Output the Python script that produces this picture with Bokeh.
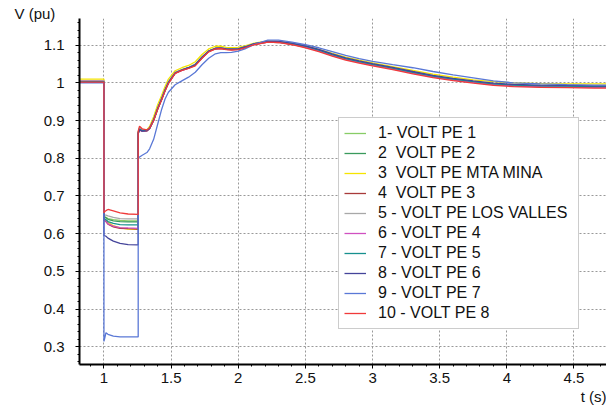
from bokeh.plotting import figure
from bokeh.models import FixedTicker, CustomJSTickFormatter, Legend, LegendItem, Title, Range1d
from bokeh.embed import file_html
from bokeh.resources import INLINE

# ---- data ----
T_pre = [0.80, 1.0]
T_fault = [1.0, 1.003, 1.015, 1.03, 1.07, 1.12, 1.18, 1.255]
T_post = [1.255, 1.265, 1.285, 1.32, 1.34, 1.37, 1.40, 1.43, 1.455, 1.48,
          1.53, 1.58, 1.63, 1.68, 1.73, 1.78, 1.83, 1.87, 1.91, 1.95,
          2.0, 2.05, 2.12, 2.22, 2.3, 2.4, 2.5, 2.6, 2.7, 2.8,
          2.9, 3.0, 3.15, 3.3, 3.45, 3.6, 3.75, 3.9, 4.05, 4.25,
          4.45, 4.65, 4.9]

names = ["1- VOLT PE 1", "2  VOLT PE 2", "3  VOLT PE MTA MINA", "4  VOLT PE 3",
         "5 - VOLT PE LOS VALLES", "6 - VOLT PE 4", "7 - VOLT PE 5", "8 - VOLT PE 6",
         "9 - VOLT PE 7", "10 - VOLT PE 8"]
colors = ["#88cc66", "#3a9a5c", "#f5e400", "#a83a3a", "#a8a8a8",
          "#d050c0", "#17908e", "#44449a", "#5a78d6", "#f03a3a"]

pre_v = [1.005, 1.004, 1.010, 1.003, 1.006, 1.004, 1.003, 1.001, 1.000, 1.002]

fault_v = [
    [0.645, 0.645, 0.643, 0.640, 0.637, 0.635, 0.634, 0.634],
    [0.644, 0.644, 0.642, 0.638, 0.634, 0.632, 0.631, 0.631],
    [0.638, 0.638, 0.636, 0.630, 0.621, 0.615, 0.612, 0.611],
    [0.635, 0.635, 0.632, 0.625, 0.618, 0.614, 0.613, 0.612],
    [0.650, 0.650, 0.649, 0.647, 0.643, 0.640, 0.639, 0.639],
    [0.636, 0.636, 0.633, 0.626, 0.620, 0.616, 0.615, 0.614],
    [0.640, 0.640, 0.637, 0.632, 0.627, 0.624, 0.623, 0.623],
    [0.596, 0.595, 0.593, 0.588, 0.580, 0.574, 0.571, 0.570],
    [0.314, 0.318, 0.337, 0.333, 0.328, 0.326, 0.326, 0.326],
    [0.655, 0.657, 0.661, 0.664, 0.660, 0.655, 0.652, 0.651],
]

post_v = [
    [0.869, 0.880, 0.876, 0.875, 0.881, 0.903, 0.933, 0.959, 0.982, 1.002, 1.027, 1.035, 1.040, 1.049, 1.068, 1.084, 1.092, 1.093, 1.090, 1.089, 1.091, 1.096, 1.104, 1.110, 1.109, 1.104, 1.096, 1.086, 1.074, 1.063, 1.055, 1.048, 1.038, 1.027, 1.017, 1.009, 1.002, 0.996, 0.993, 0.991, 0.990, 0.989, 0.989],
    [0.868, 0.879, 0.875, 0.874, 0.880, 0.902, 0.932, 0.958, 0.981, 1.001, 1.027, 1.034, 1.040, 1.048, 1.067, 1.084, 1.091, 1.092, 1.090, 1.089, 1.090, 1.095, 1.103, 1.109, 1.108, 1.103, 1.096, 1.086, 1.074, 1.063, 1.055, 1.048, 1.038, 1.027, 1.017, 1.009, 1.002, 0.996, 0.993, 0.991, 0.990, 0.989, 0.989],
    [0.868, 0.878, 0.874, 0.876, 0.884, 0.910, 0.942, 0.967, 0.990, 1.010, 1.032, 1.040, 1.046, 1.056, 1.075, 1.090, 1.097, 1.097, 1.094, 1.093, 1.094, 1.098, 1.105, 1.111, 1.110, 1.106, 1.099, 1.089, 1.078, 1.068, 1.060, 1.053, 1.043, 1.033, 1.023, 1.015, 1.008, 1.003, 1.000, 0.998, 0.997, 0.997, 0.997],
    [0.865, 0.875, 0.871, 0.872, 0.878, 0.900, 0.930, 0.956, 0.979, 0.999, 1.025, 1.033, 1.039, 1.047, 1.066, 1.083, 1.090, 1.091, 1.089, 1.088, 1.089, 1.094, 1.102, 1.108, 1.107, 1.102, 1.095, 1.085, 1.073, 1.062, 1.054, 1.047, 1.037, 1.026, 1.016, 1.008, 1.001, 0.995, 0.992, 0.990, 0.989, 0.988, 0.988],
    [0.870, 0.880, 0.876, 0.875, 0.881, 0.903, 0.934, 0.960, 0.983, 1.003, 1.028, 1.035, 1.041, 1.050, 1.069, 1.085, 1.092, 1.093, 1.091, 1.090, 1.091, 1.096, 1.104, 1.110, 1.109, 1.104, 1.097, 1.087, 1.075, 1.064, 1.056, 1.049, 1.039, 1.028, 1.018, 1.010, 1.003, 0.997, 0.994, 0.992, 0.991, 0.990, 0.990],
    [0.866, 0.876, 0.872, 0.873, 0.879, 0.901, 0.931, 0.957, 0.980, 1.000, 1.026, 1.033, 1.039, 1.047, 1.066, 1.083, 1.091, 1.092, 1.089, 1.088, 1.089, 1.094, 1.102, 1.108, 1.108, 1.103, 1.095, 1.085, 1.073, 1.062, 1.054, 1.047, 1.037, 1.026, 1.016, 1.008, 1.001, 0.995, 0.992, 0.990, 0.989, 0.988, 0.988],
    [0.867, 0.877, 0.873, 0.874, 0.880, 0.902, 0.932, 0.958, 0.981, 1.001, 1.026, 1.034, 1.040, 1.048, 1.067, 1.084, 1.091, 1.092, 1.090, 1.089, 1.090, 1.095, 1.103, 1.109, 1.109, 1.104, 1.097, 1.087, 1.075, 1.064, 1.056, 1.049, 1.039, 1.028, 1.018, 1.010, 1.003, 0.997, 0.994, 0.992, 0.991, 0.990, 0.990],
    [0.866, 0.876, 0.872, 0.873, 0.879, 0.901, 0.931, 0.957, 0.980, 1.000, 1.026, 1.034, 1.040, 1.048, 1.067, 1.084, 1.091, 1.092, 1.090, 1.089, 1.090, 1.095, 1.104, 1.110, 1.110, 1.105, 1.098, 1.089, 1.077, 1.066, 1.058, 1.051, 1.041, 1.030, 1.020, 1.012, 1.005, 0.999, 0.996, 0.994, 0.993, 0.992, 0.992],
    [0.800, 0.803, 0.808, 0.815, 0.825, 0.850, 0.890, 0.930, 0.957, 0.975, 0.995, 1.005, 1.015, 1.028, 1.048, 1.065, 1.077, 1.080, 1.080, 1.081, 1.084, 1.090, 1.102, 1.113, 1.113, 1.108, 1.101, 1.093, 1.083, 1.073, 1.064, 1.057, 1.048, 1.040, 1.030, 1.021, 1.013, 1.005, 1.000, 0.997, 0.995, 0.994, 0.994],
    [0.872, 0.885, 0.878, 0.875, 0.880, 0.900, 0.930, 0.955, 0.978, 0.998, 1.025, 1.033, 1.038, 1.045, 1.065, 1.082, 1.090, 1.091, 1.088, 1.087, 1.088, 1.093, 1.101, 1.108, 1.107, 1.101, 1.093, 1.083, 1.071, 1.060, 1.052, 1.045, 1.035, 1.024, 1.014, 1.006, 0.999, 0.993, 0.990, 0.988, 0.987, 0.986, 0.986],
]

x_ticks = [1, 1.5, 2, 2.5, 3, 3.5, 4, 4.5]
y_ticks = [0.3, 0.4, 0.5, 0.6, 0.7, 0.8, 0.9, 1.0, 1.1]

# ---- figure ----
FONT = "Liberation Sans"
p = figure(width=606, height=410, output_backend="svg", toolbar_location=None,
           x_range=Range1d(0.818, 4.742), y_range=Range1d(0.2528, 1.1706),
           min_border_left=79, min_border_right=0, min_border_top=18, min_border_bottom=46)
p.outline_line_color = None
p.background_fill_color = "white"
p.border_fill_color = "white"

T_all = T_pre + T_fault + T_post
renderers = []
for i in range(len(names)):
    ys = [pre_v[i], pre_v[i]] + fault_v[i] + post_v[i]
    r = p.line(T_all, ys, line_color=colors[i], line_width=1.3)
    renderers.append(r)

x_minor = [round(0.8 + 0.1 * k, 2) for k in range(0, 40)]
y_minor = [round(0.26 + 0.02 * k, 2) for k in range(0, 46)]
xt = FixedTicker(ticks=x_ticks, minor_ticks=x_minor)
yt = FixedTicker(ticks=y_ticks, minor_ticks=y_minor)
p.xaxis.ticker = xt
p.yaxis.ticker = yt
p.xgrid.ticker = xt
p.ygrid.ticker = yt
p.xaxis.formatter = CustomJSTickFormatter(code="return String(Math.round(tick*1000)/1000);")
p.yaxis.formatter = CustomJSTickFormatter(code="return String(Math.round(tick*1000)/1000);")

for ax in (p.xaxis, p.yaxis):
    ax.axis_line_width = 2
    ax.axis_line_color = "black"
    ax.major_tick_out = 4
    ax.major_tick_in = 0
    ax.minor_tick_out = 2
    ax.minor_tick_in = 0
    ax.major_tick_line_color = "black"
    ax.minor_tick_line_color = "black"
    ax.major_label_text_font = FONT
    ax.major_label_text_font_size = "15px"
    ax.major_label_text_color = "#111111"
p.yaxis.major_label_standoff = 11
p.xaxis.major_label_standoff = 4

for g in (p.xgrid, p.ygrid):
    g.grid_line_color = "#999999"
    g.grid_line_dash = "2 2"
    g.grid_line_width = 1

legend = Legend(items=[LegendItem(label=names[i], renderers=[renderers[i]]) for i in range(len(names))],
                location=(259, 35))
legend.border_line_color = "#9a9a9a"
legend.border_line_width = 1
legend.background_fill_color = "white"
legend.background_fill_alpha = 1
legend.label_text_font = FONT
legend.label_text_font_size = "16px"
legend.label_text_color = "#111111"
legend.padding = 5
legend.spacing = 0
legend.margin = 0
legend.label_height = 20
legend.label_width = 195
legend.glyph_height = 20
legend.glyph_width = 22
legend.label_standoff = 12
p.add_layout(legend)

# axis titles
p.title.text = "V (pu)"
p.title.align = "left"
p.title.offset = -65
p.title.standoff = -6
p.title.text_font = FONT
p.title.text_font_size = "15px"
p.title.text_font_style = "normal"
p.title.text_color = "#111111"

t_title = Title(text="t (s)", align="right", offset=0, standoff=0, text_font=FONT,
                text_font_size="15px", text_font_style="normal", text_color="#111111")
p.add_layout(t_title, "below")

open("out.html", "w").write(file_html(p, INLINE))
